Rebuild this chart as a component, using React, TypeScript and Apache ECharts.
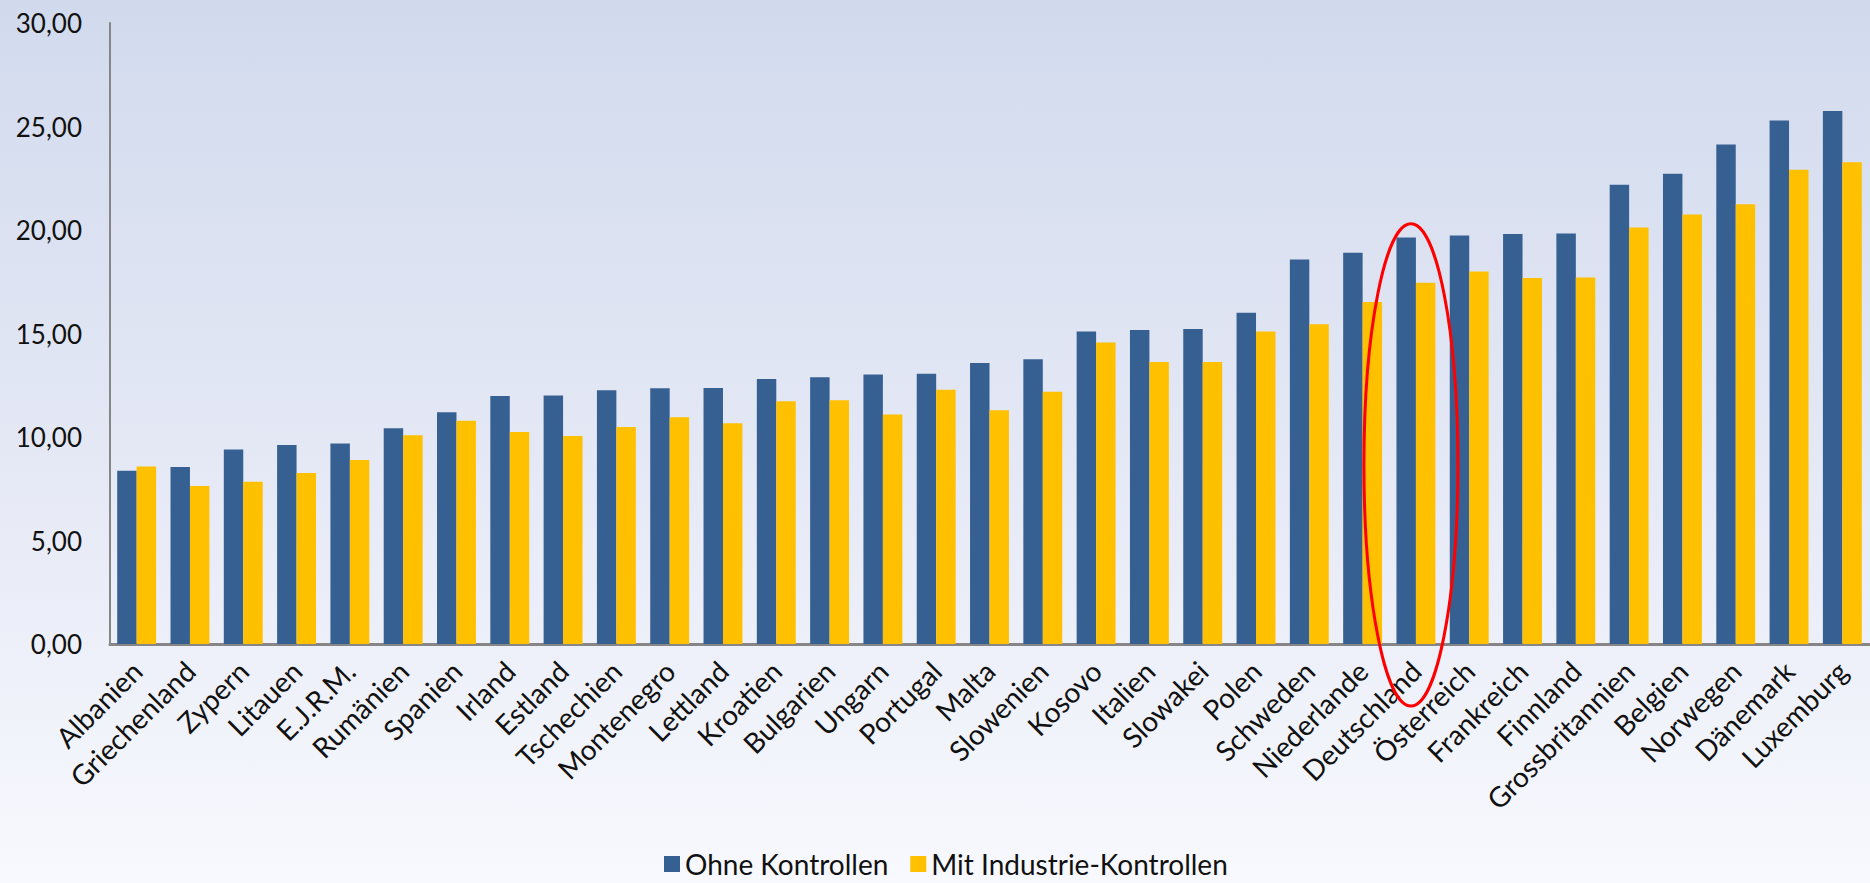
import React, { useEffect, useRef } from "react";
import * as echarts from "echarts";

const categories = [
  "Albanien", "Griechenland", "Zypern", "Litauen", "E.J.R.M.", "Rumänien", "Spanien",
  "Irland", "Estland", "Tschechien", "Montenegro", "Lettland", "Kroatien", "Bulgarien",
  "Ungarn", "Portugal", "Malta", "Slowenien", "Kosovo", "Italien", "Slowakei", "Polen",
  "Schweden", "Niederlande", "Deutschland", "Österreich", "Frankreich", "Finnland",
  "Grossbritannien", "Belgien", "Norwegen", "Dänemark", "Luxemburg",
];

const ohneKontrollen = [
  8.37, 8.55, 9.40, 9.61, 9.69, 10.42, 11.19, 11.98, 12.01, 12.26, 12.36, 12.37, 12.80,
  12.89, 13.02, 13.06, 13.57, 13.76, 15.10, 15.17, 15.22, 16.00, 18.58, 18.90, 19.64,
  19.74, 19.81, 19.83, 22.18, 22.72, 24.13, 25.29, 25.75,
];

const mitIndustrieKontrollen = [
  8.58, 7.63, 7.84, 8.26, 8.89, 10.09, 10.78, 10.24, 10.05, 10.48, 10.95, 10.66, 11.73,
  11.77, 11.09, 12.28, 11.29, 12.19, 14.56, 13.62, 13.62, 15.10, 15.45, 16.52, 17.45,
  18.00, 17.68, 17.71, 20.12, 20.75, 21.25, 22.91, 23.27,
];

const seriesNames = ["Ohne Kontrollen", "Mit Industrie-Kontrollen"];
const highlighted = "Deutschland";

const FONT = "Lato, 'Noto Sans', sans-serif";

export default function App() {
  const ref = useRef<HTMLDivElement>(null);

  useEffect(() => {
    if (!ref.current) return;
    const chart = echarts.init(ref.current, undefined, { renderer: "svg" });
    chart.setOption({
      animation: false,
      backgroundColor: {
        type: "linear",
        x: 0,
        y: 0,
        x2: 0,
        y2: 1,
        colorStops: [
          { offset: 0, color: "#d1daed" },
          { offset: 0.5, color: "#e4e8f5" },
          { offset: 1, color: "#f8f9fe" },
        ],
      },
      textStyle: { fontFamily: FONT },
      grid: { left: 110, right: 1, top: 23, bottom: 239 },
      legend: {
        data: seriesNames,
        top: 844,
        left: 659,
        itemWidth: 16,
        itemHeight: 16,
        itemGap: 22,
        icon: "rect",
        textStyle: { fontSize: 28, lineHeight: 30, color: "#111", fontFamily: FONT },
      },
      xAxis: {
        type: "category",
        data: categories,
        axisLine: { show: true, lineStyle: { color: "#868686", width: 3 } },
        axisTick: { show: false },
        axisLabel: {
          rotate: 45,
          interval: 0,
          margin: 22,
          fontSize: 28,
          color: "#111",
          fontFamily: FONT,
        },
      },
      yAxis: {
        type: "value",
        min: 0,
        max: 30,
        interval: 5,
        axisLine: { show: true, lineStyle: { color: "#868686", width: 2 } },
        axisTick: { show: false },
        splitLine: { show: false },
        axisLabel: {
          margin: 28,
          fontSize: 26,
          color: "#111",
          fontFamily: FONT,
          formatter: (v: number) => v.toFixed(2).replace(".", ","),
        },
      },
      series: [
        {
          name: seriesNames[0],
          type: "bar",
          data: ohneKontrollen,
          barGap: "0%",
          barCategoryGap: "27%",
          itemStyle: { color: "#366092" },
        },
        {
          name: seriesNames[1],
          type: "bar",
          data: mitIndustrieKontrollen,
          barGap: "0%",
          barCategoryGap: "27%",
          itemStyle: { color: "#ffc000" },
        },
      ],
    });

    const idx = categories.indexOf(highlighted);
    const cx = chart.convertToPixel({ xAxisIndex: 0 }, idx) as number;
    const yTop = chart.convertToPixel({ yAxisIndex: 0 }, 20.3) as number;
    const yBase = chart.convertToPixel({ yAxisIndex: 0 }, 0) as number;
    const yBottom = yBase + 62;
    chart.setOption({
      graphic: [
        {
          type: "ellipse",
          shape: {
            cx: cx - 5,
            cy: (yTop + yBottom) / 2,
            rx: 47,
            ry: (yBottom - yTop) / 2,
          },
          style: { fill: "none", stroke: "#ff0000", lineWidth: 3 },
          z: 100,
        },
      ],
    });

    return () => chart.dispose();
  }, []);

  return (
    <div
      ref={ref}
      style={{ position: "fixed", left: 0, top: 0, width: 1870, height: 883 }}
    />
  );
}
